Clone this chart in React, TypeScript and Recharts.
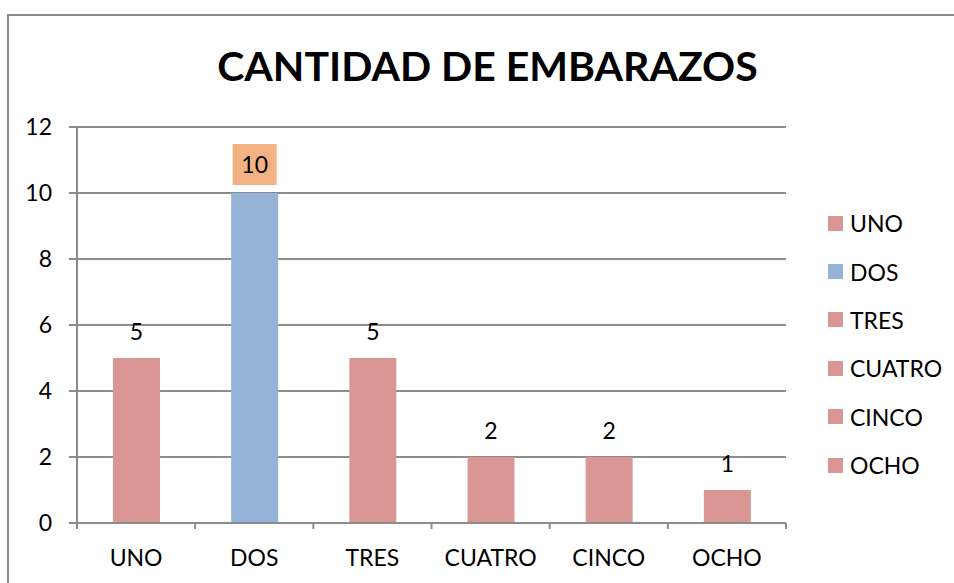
import React from 'react';
import { BarChart, Bar, XAxis, YAxis, CartesianGrid, Cell, LabelList } from 'recharts';

const categories = ['UNO', 'DOS', 'TRES', 'CUATRO', 'CINCO', 'OCHO'];
const counts = [5, 10, 5, 2, 2, 1];
const barColors = ['#D99694', '#95B3D7', '#D99694', '#D99694', '#D99694', '#D99694'];
const yTicks = [0, 2, 4, 6, 8, 10, 12];

const data = categories.map((c, i) => ({ name: c, value: counts[i] }));

const FONT = 'Lato, "Liberation Sans", sans-serif';
const GRAY = '#8c8c8c';

const XTick = (props: any) => {
  const { x, y, payload, index } = props;
  const band = 709 / categories.length;
  return (
    <g>
      <line x1={x - band / 2} x2={x - band / 2} y1={y - 8} y2={y - 2} stroke={GRAY} strokeWidth={2} />
      {index === categories.length - 1 && (
        <line x1={x + band / 2} x2={x + band / 2} y1={y - 8} y2={y - 2} stroke={GRAY} strokeWidth={2} />
      )}
      <text x={x} y={y + 35} textAnchor="middle" fontSize={23} fontFamily={FONT} fill="#000">
        {payload.value}
      </text>
    </g>
  );
};

const ValueLabel = (props: any) => {
  const { x, y, width, value, index } = props;
  const cx = x + width / 2;
  if (index === 1) {
    return (
      <g>
        <rect x={cx - 22} y={y - 49} width={44} height={41} fill="#F4B183" />
        <text x={cx} y={y - 20} textAnchor="middle" fontSize={23} fontFamily={FONT} fill="#000">
          {value}
        </text>
      </g>
    );
  }
  return (
    <text x={cx} y={y - 18} textAnchor="middle" fontSize={23} fontFamily={FONT} fill="#000">
      {value}
    </text>
  );
};

const App: React.FC = () => {
  return (
    <div style={{ position: 'fixed', left: 0, top: 0, width: 954, height: 583, overflow: 'hidden', background: '#fff' }}>
      {/* chart frame: only top and left edges are visible in the crop */}
      <div
        style={{
          position: 'absolute',
          left: 7,
          top: 14,
          width: 1100,
          height: 1100,
          borderTop: `2px solid ${GRAY}`,
          borderLeft: `2px solid ${GRAY}`,
          boxSizing: 'border-box',
        }}
      />
      <div
        style={{
          position: 'absolute',
          left: 0,
          width: 975,
          top: 36,
          textAlign: 'center',
          fontFamily: FONT,
          fontWeight: 'bold',
          fontSize: 41,
          lineHeight: '60px',
          color: '#000',
        }}
      >
        CANTIDAD DE EMBARAZOS
      </div>
      <div style={{ position: 'absolute', left: 0, top: 0 }}>
        <BarChart width={954} height={583} data={data} margin={{ top: 127, right: 168, left: 17, bottom: 30 }}>
          <CartesianGrid vertical={false} stroke={GRAY} strokeWidth={2} />
          <XAxis
            dataKey="name"
            tick={<XTick />}
            tickLine={false}
            axisLine={{ stroke: GRAY, strokeWidth: 2 }}
            height={30}
            interval={0}
          />
          <YAxis
            width={60}
            domain={[0, 12]}
            ticks={yTicks}
            axisLine={{ stroke: GRAY, strokeWidth: 2 }}
            tickLine={{ stroke: GRAY, strokeWidth: 2 }}
            tickSize={8}
            tickMargin={17}
            tick={{ fill: '#000', fontSize: 23, fontFamily: FONT }}
          />
          <Bar dataKey="value" barSize={47} isAnimationActive={false}>
            {data.map((d, i) => (
              <Cell key={d.name} fill={barColors[i]} />
            ))}
            <LabelList dataKey="value" content={<ValueLabel />} />
          </Bar>
        </BarChart>
      </div>
      <div style={{ position: 'absolute', left: 828, top: 199, fontFamily: FONT, fontSize: 23 }}>
        {categories.map((c, i) => (
          <div key={c} style={{ display: 'flex', alignItems: 'center', height: 48.4 }}>
            <span style={{ width: 15, height: 15, background: barColors[i], marginRight: 7 }} />
            <span>{c}</span>
          </div>
        ))}
      </div>
    </div>
  );
};

export default App;
